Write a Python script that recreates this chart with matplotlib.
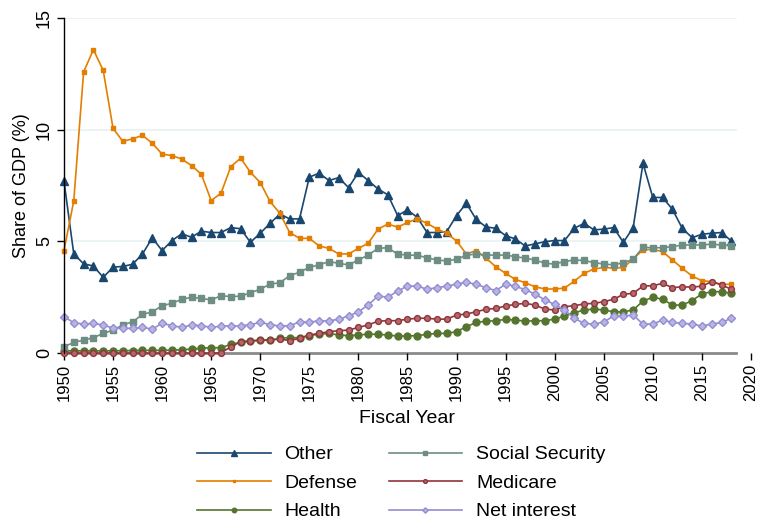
import numpy as np
import matplotlib
matplotlib.use("Agg")
import matplotlib.pyplot as plt

plt.rcParams['font.family'] = ['Liberation Sans', 'DejaVu Sans']

# Fiscal years 1950-2018, shares of GDP (%)
years = list(range(1950, 2019))

other = [7.71, 4.44, 4.00, 3.90, 3.39, 3.85, 3.88, 3.98, 4.44, 5.16,
         4.59, 5.04, 5.34, 5.19, 5.46, 5.40, 5.40, 5.62, 5.57, 4.96,
         5.37, 5.81, 6.23, 6.01, 6.01, 7.88, 8.06, 7.73, 7.86, 7.41,
         8.09, 7.73, 7.35, 7.09, 6.16, 6.41, 6.08, 5.40, 5.40, 5.44,
         6.16, 6.71, 5.99, 5.65, 5.59, 5.26, 5.11, 4.80, 4.89, 4.99,
         5.04, 5.04, 5.59, 5.81, 5.52, 5.55, 5.62, 4.96, 5.62, 8.50,
         6.97, 6.97, 6.44, 5.59, 5.17, 5.32, 5.37, 5.40, 5.02]

defense = [4.59, 6.82, 12.59, 13.59, 12.66, 10.07, 9.48, 9.60, 9.75, 9.40,
           8.91, 8.85, 8.69, 8.40, 8.01, 6.83, 7.16, 8.35, 8.73, 8.10,
           7.64, 6.79, 6.26, 5.40, 5.14, 5.14, 4.80, 4.69, 4.44, 4.44,
           4.69, 4.92, 5.55, 5.78, 5.64, 5.85, 6.01, 5.81, 5.56, 5.37,
           5.02, 4.44, 4.59, 4.25, 3.87, 3.57, 3.30, 3.15, 2.97, 2.87,
           2.87, 2.91, 3.22, 3.57, 3.77, 3.83, 3.81, 3.83, 4.22, 4.62,
           4.65, 4.54, 4.17, 3.80, 3.45, 3.24, 3.20, 3.08, 3.08]

health = [0.10, 0.10, 0.10, 0.10, 0.10, 0.10, 0.11, 0.11, 0.12, 0.12,
          0.12, 0.13, 0.15, 0.18, 0.22, 0.24, 0.24, 0.39, 0.48, 0.54,
          0.58, 0.58, 0.66, 0.69, 0.69, 0.78, 0.85, 0.88, 0.81, 0.78,
          0.81, 0.85, 0.84, 0.81, 0.76, 0.77, 0.78, 0.84, 0.88, 0.88,
          0.96, 1.18, 1.37, 1.43, 1.45, 1.51, 1.48, 1.43, 1.45, 1.45,
          1.52, 1.66, 1.81, 1.93, 1.97, 1.93, 1.85, 1.85, 1.93, 2.33,
          2.50, 2.41, 2.15, 2.15, 2.35, 2.65, 2.75, 2.75, 2.68]

social_security = [0.28, 0.48, 0.58, 0.69, 0.88, 1.03, 1.26, 1.40, 1.73, 1.85,
                   2.12, 2.23, 2.41, 2.50, 2.45, 2.38, 2.57, 2.53, 2.55, 2.70,
                   2.86, 3.09, 3.15, 3.47, 3.62, 3.84, 3.95, 4.10, 4.02, 3.95,
                   4.17, 4.39, 4.69, 4.72, 4.43, 4.39, 4.38, 4.27, 4.17, 4.13,
                   4.20, 4.38, 4.44, 4.39, 4.39, 4.39, 4.32, 4.25, 4.17, 4.02,
                   3.99, 4.10, 4.17, 4.15, 4.05, 3.99, 3.95, 4.05, 4.20, 4.74,
                   4.72, 4.72, 4.77, 4.84, 4.84, 4.84, 4.88, 4.84, 4.81]

medicare = [0.0, 0.0, 0.0, 0.0, 0.0, 0.0, 0.0, 0.0, 0.0, 0.0,
            0.0, 0.0, 0.0, 0.0, 0.0, 0.0, 0.01, 0.28, 0.51, 0.54,
            0.58, 0.58, 0.63, 0.56, 0.66, 0.81, 0.88, 0.96, 1.00, 1.03,
            1.15, 1.26, 1.43, 1.45, 1.45, 1.52, 1.56, 1.56, 1.52, 1.52,
            1.70, 1.75, 1.85, 1.96, 2.00, 2.11, 2.18, 2.23, 2.15, 1.97,
            1.93, 2.08, 2.12, 2.20, 2.23, 2.30, 2.41, 2.63, 2.68, 3.00,
            3.02, 3.12, 2.93, 2.97, 2.95, 3.00, 3.20, 3.05, 2.86]

net_interest = [1.63, 1.36, 1.30, 1.33, 1.26, 1.11, 1.11, 1.11, 1.15, 1.08,
                1.33, 1.23, 1.15, 1.26, 1.23, 1.15, 1.21, 1.22, 1.21, 1.28,
                1.37, 1.28, 1.21, 1.23, 1.39, 1.39, 1.44, 1.44, 1.52, 1.66,
                1.85, 2.15, 2.56, 2.50, 2.78, 3.00, 3.00, 2.86, 2.93, 3.00,
                3.09, 3.17, 3.08, 2.93, 2.80, 3.08, 3.00, 2.83, 2.65, 2.38,
                2.18, 1.93, 1.56, 1.33, 1.30, 1.39, 1.66, 1.66, 1.70, 1.30,
                1.30, 1.48, 1.37, 1.33, 1.30, 1.21, 1.30, 1.37, 1.56]

x_ticks = list(range(1950, 2021, 5))
y_ticks = [0, 5, 10, 15]
x_end = 2018.5  # plot region stops just past the last year

fig = plt.figure(figsize=(7.57, 5.2), dpi=100)
ax = fig.add_axes([0.0845, 0.321, 0.9075, 0.644])

# horizontal gridlines only span the plot region (Stata style)
for yv in y_ticks[1:]:
    ax.plot([1950, x_end], [yv, yv], color='#eaf2f3', lw=1.3, zorder=0)

series = [
    ("Other", other, '#1a476f', dict(marker='^', ms=6.2)),
    ("Defense", defense, '#e37e00', dict(marker='s', ms=2.3)),
    ("Health", health, '#55752f', dict(marker='o', ms=5)),
    ("Social Security", social_security, '#6e8e84', dict(marker='s', ms=5)),
    ("Medicare", medicare, '#90353b', dict(marker='o', ms=4.2, mfc='#b5686c')),
    ("Net interest", net_interest, '#938dd2', dict(marker='D', ms=4.2, mfc='#b9b5e3')),
]

handles = []
for name, vals, col, mk in series:
    h, = ax.plot(years, vals, color=col, lw=1.2, label=name, mec=col,
                 clip_on=False, **mk)
    handles.append(h)

ax.set_xlim(1950, 2020)
ax.set_ylim(0, 15)
ax.set_xticks(x_ticks)
ax.set_yticks(y_ticks)
ax.tick_params(axis='x', labelsize=12, rotation=90, length=5, width=1, pad=3)
ax.tick_params(axis='y', labelsize=13, length=5, width=1, pad=3)
for lab in ax.get_yticklabels():
    lab.set_rotation(90)
    lab.set_va('center')

ax.spines['top'].set_visible(False)
ax.spines['right'].set_visible(False)
ax.spines['bottom'].set_visible(False)
ax.spines['left'].set_linewidth(1)
ax.plot([1950, x_end], [0, 0], color='#8a8a8a', lw=2, clip_on=False, zorder=1.5)

ax.set_ylabel("Share of GDP (%)", fontsize=13, labelpad=4)
ax.set_xlabel("Fiscal Year", fontsize=14, labelpad=6)

fig.legend(handles=handles, ncol=2, loc='center', bbox_to_anchor=(0.53, 0.071),
           frameon=False, fontsize=14, handlelength=3.8, columnspacing=1.6,
           labelspacing=0.56, handletextpad=0.7, markerscale=0.65,
           borderaxespad=0, borderpad=0.1)

fig.savefig("out.png", dpi=100)
